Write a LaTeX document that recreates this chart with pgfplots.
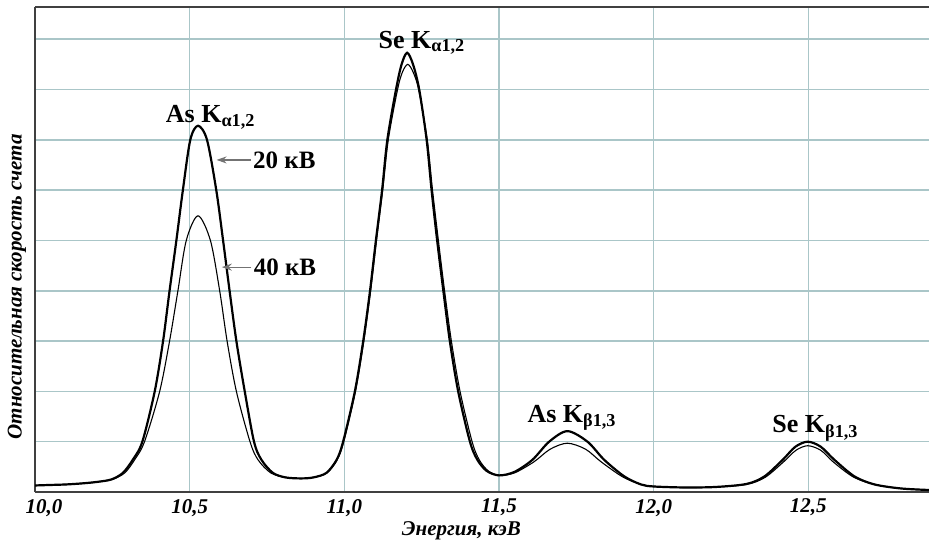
\documentclass[border=0pt]{standalone}
\usepackage{fontspec}
\setmainfont{Liberation Serif}
\usepackage{pgfplots}
\pgfplotsset{compat=1.18}
\usetikzlibrary{arrows.meta}

\definecolor{gridc}{RGB}{170,198,200}
\definecolor{thin}{RGB}{115,115,115}

\newcommand{\lbl}[2]{\fontsize{13}{15}\selectfont\bfseries #1~K\textsubscript{#2}}

\begin{document}
\begin{tikzpicture}
\begin{axis}[
    width=447pt, height=242.5pt, scale only axis,
    xmin=10, xmax=12.89,
    ymin=0, ymax=9.64,
    axis x line*=bottom, axis y line*=left,
    axis line style={line width=1pt, black!75},
    xtick={10,10.5,11,11.5,12,12.5},
    xticklabels={{\hspace*{9pt}10,0},{10,5},{11,0},{11,5},{12,0},{12,5}},
    ytick={1,2,3,4,5,6,7,8,9},
    yticklabels={},
    major tick length=0pt,
    grid=major,
    grid style={gridc, line width=0.8pt},
    x tick label style={font=\fontsize{10.5}{12}\selectfont\bfseries\itshape},
    xlabel={Энергия, кэВ},
    xlabel style={at={(rel axis cs:0.477,0)}, anchor=center, yshift=-19.5pt,
                  font=\fontsize{10.5}{12}\selectfont\bfseries\itshape},
    ylabel={Относительная скорость счета},
    ylabel style={at={(rel axis cs:0,0.423)}, anchor=center, yshift=9pt,
                  font=\fontsize{10.5}{12}\selectfont\bfseries\itshape},
]

\coordinate (ll) at (rel axis cs:0,0);
\coordinate (ur) at (rel axis cs:1,1);

% 40 kV
\addplot[thin, line width=0.55pt, smooth] coordinates {
(10.00,0.13) (10.05,0.14) (10.10,0.15) (10.15,0.17) (10.20,0.20) (10.25,0.25)
(10.29,0.38) (10.322,0.64) (10.354,1.0) (10.403,2.0) (10.435,3.0) (10.462,4.0)
(10.489,5.0) (10.527,5.49) (10.567,5.0) (10.597,4.0) (10.621,3.0) (10.651,2.0)
(10.695,1.0) (10.721,0.64) (10.762,0.38) (10.81,0.29) (10.86,0.27) (10.90,0.29)
(10.944,0.38) (10.977,0.64) (10.998,1.0) (11.036,2.0) (11.063,3.0) (11.085,4.0)
(11.104,5.0) (11.124,6.0) (11.142,7.0) (11.172,8.0) (11.188,8.35) (11.205,8.5)
(11.222,8.35) (11.24,8.0) (11.268,7.0) (11.285,6.0) (11.304,5.0) (11.324,4.0)
(11.346,3.0) (11.374,2.0) (11.413,1.0) (11.436,0.64) (11.465,0.42) (11.50,0.33)
(11.55,0.38) (11.613,0.60) (11.665,0.85) (11.721,0.97) (11.78,0.85) (11.83,0.60)
(11.90,0.30) (11.96,0.15) (12.00,0.11) (12.10,0.09) (12.20,0.10) (12.30,0.15)
(12.36,0.29) (12.42,0.60) (12.46,0.83) (12.498,0.92) (12.54,0.83) (12.58,0.60)
(12.645,0.30) (12.714,0.15) (12.80,0.07) (12.89,0.04)
};

% 20 kV
\addplot[black, line width=1.1pt, smooth] coordinates {
(10.00,0.13) (10.05,0.14) (10.10,0.15) (10.15,0.17) (10.20,0.20) (10.247,0.25)
(10.284,0.38) (10.316,0.64) (10.347,1.0) (10.387,2.0) (10.414,3.0) (10.435,4.0)
(10.457,5.0) (10.478,6.0) (10.502,7.0) (10.527,7.28) (10.556,7.0) (10.586,6.0)
(10.608,5.0) (10.629,4.0) (10.651,3.0) (10.678,2.0) (10.708,1.0) (10.732,0.64)
(10.769,0.38) (10.81,0.29) (10.86,0.27) (10.90,0.29) (10.942,0.38) (10.975,0.64)
(10.996,1.0) (11.034,2.0) (11.061,3.0) (11.083,4.0) (11.102,5.0) (11.122,6.0)
(11.139,7.0) (11.167,8.0) (11.185,8.5) (11.203,8.73) (11.222,8.5) (11.242,8.0)
(11.266,7.0) (11.282,6.0) (11.300,5.0) (11.320,4.0) (11.341,3.0) (11.368,2.0)
(11.406,1.0) (11.43,0.64) (11.46,0.42) (11.50,0.33) (11.55,0.40) (11.608,0.64)
(11.662,1.0) (11.721,1.21) (11.786,1.0) (11.84,0.64) (11.905,0.31) (11.959,0.15)
(12.00,0.11) (12.10,0.09) (12.20,0.10) (12.30,0.16) (12.358,0.31) (12.417,0.64)
(12.458,0.90) (12.498,1.00) (12.54,0.90) (12.584,0.64) (12.649,0.31) (12.714,0.15)
(12.80,0.07) (12.89,0.04)
};

\draw[black!75, line width=0.8pt] (rel axis cs:0,1) -- (rel axis cs:1,1);

\node at (axis cs:10.568,7.44) {\lbl{As}{α1,2}};
\node at (axis cs:11.251,8.93) {\lbl{Se}{α1,2}};
\node at (axis cs:11.736,1.47) {\lbl{As}{β1,3}};
\node at (axis cs:12.523,1.27) {\lbl{Se}{β1,3}};

\node[font=\fontsize{12.5}{14}\selectfont\bfseries, inner sep=1pt] (t20) at (axis cs:10.806,6.6) {20 кВ};
\draw[-{Stealth[length=5pt,width=3.5pt]}, black!55, line width=0.6pt] (t20.west) -- (axis cs:10.587,6.6);
\node[font=\fontsize{12.5}{14}\selectfont\bfseries, inner sep=1pt] (t40) at (axis cs:10.808,4.47) {40 кВ};
\draw[-{Stealth[length=5pt,width=3.5pt]}, black!55, line width=0.6pt] (t40.west) -- (axis cs:10.604,4.47);

\end{axis}
\pgfresetboundingbox
\path ([xshift=-17.5pt,yshift=-27pt]ll) rectangle ([yshift=3.5pt]ur);
\end{tikzpicture}
\end{document}
